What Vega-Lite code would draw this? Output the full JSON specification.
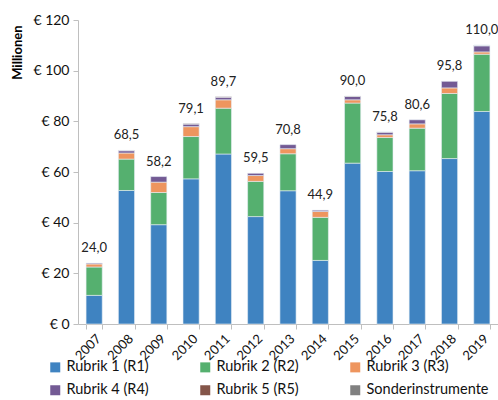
{
  "$schema": "https://vega.github.io/schema/vega-lite/v6.json",
  "width": 420,
  "height": 304,
  "autosize": "none",
  "padding": {"left": 78, "top": 20, "right": 0, "bottom": 76},
  "config": {
    "view": {"stroke": null},
    "font": "Lato",
    "locale": {"number": {"decimal": ",", "thousands": ".", "grouping": [3], "currency": ["€ ", ""]}}
  },
  "data": {
    "values": [
      {"year": "2007", "rubrik": "Rubrik 1 (R1)", "ord": 1, "value": 11.3},
      {"year": "2007", "rubrik": "Rubrik 2 (R2)", "ord": 2, "value": 11.2},
      {"year": "2007", "rubrik": "Rubrik 3 (R3)", "ord": 3, "value": 1.2},
      {"year": "2007", "rubrik": "Rubrik 4 (R4)", "ord": 4, "value": 0.3},
      {"year": "2008", "rubrik": "Rubrik 1 (R1)", "ord": 1, "value": 52.7},
      {"year": "2008", "rubrik": "Rubrik 2 (R2)", "ord": 2, "value": 12.4},
      {"year": "2008", "rubrik": "Rubrik 3 (R3)", "ord": 3, "value": 2.4},
      {"year": "2008", "rubrik": "Rubrik 4 (R4)", "ord": 4, "value": 0.9},
      {"year": "2008", "rubrik": "Rubrik 5 (R5)", "ord": 5, "value": 0.1},
      {"year": "2009", "rubrik": "Rubrik 1 (R1)", "ord": 1, "value": 39.2},
      {"year": "2009", "rubrik": "Rubrik 2 (R2)", "ord": 2, "value": 12.7},
      {"year": "2009", "rubrik": "Rubrik 3 (R3)", "ord": 3, "value": 4.1},
      {"year": "2009", "rubrik": "Rubrik 4 (R4)", "ord": 4, "value": 2.2},
      {"year": "2010", "rubrik": "Rubrik 1 (R1)", "ord": 1, "value": 57.3},
      {"year": "2010", "rubrik": "Rubrik 2 (R2)", "ord": 2, "value": 16.7},
      {"year": "2010", "rubrik": "Rubrik 3 (R3)", "ord": 3, "value": 3.9},
      {"year": "2010", "rubrik": "Rubrik 4 (R4)", "ord": 4, "value": 1.0},
      {"year": "2010", "rubrik": "Rubrik 5 (R5)", "ord": 5, "value": 0.2},
      {"year": "2011", "rubrik": "Rubrik 1 (R1)", "ord": 1, "value": 67.1},
      {"year": "2011", "rubrik": "Rubrik 2 (R2)", "ord": 2, "value": 18.1},
      {"year": "2011", "rubrik": "Rubrik 3 (R3)", "ord": 3, "value": 3.3},
      {"year": "2011", "rubrik": "Rubrik 4 (R4)", "ord": 4, "value": 1.0},
      {"year": "2011", "rubrik": "Rubrik 5 (R5)", "ord": 5, "value": 0.2},
      {"year": "2012", "rubrik": "Rubrik 1 (R1)", "ord": 1, "value": 42.4},
      {"year": "2012", "rubrik": "Rubrik 2 (R2)", "ord": 2, "value": 13.9},
      {"year": "2012", "rubrik": "Rubrik 3 (R3)", "ord": 3, "value": 2.3},
      {"year": "2012", "rubrik": "Rubrik 4 (R4)", "ord": 4, "value": 0.9},
      {"year": "2013", "rubrik": "Rubrik 1 (R1)", "ord": 1, "value": 52.6},
      {"year": "2013", "rubrik": "Rubrik 2 (R2)", "ord": 2, "value": 14.6},
      {"year": "2013", "rubrik": "Rubrik 3 (R3)", "ord": 3, "value": 2.0},
      {"year": "2013", "rubrik": "Rubrik 4 (R4)", "ord": 4, "value": 1.6},
      {"year": "2014", "rubrik": "Rubrik 1 (R1)", "ord": 1, "value": 25.1},
      {"year": "2014", "rubrik": "Rubrik 2 (R2)", "ord": 2, "value": 17.0},
      {"year": "2014", "rubrik": "Rubrik 3 (R3)", "ord": 3, "value": 2.3},
      {"year": "2014", "rubrik": "Rubrik 4 (R4)", "ord": 4, "value": 0.5},
      {"year": "2015", "rubrik": "Rubrik 1 (R1)", "ord": 1, "value": 63.5},
      {"year": "2015", "rubrik": "Rubrik 2 (R2)", "ord": 2, "value": 23.7},
      {"year": "2015", "rubrik": "Rubrik 3 (R3)", "ord": 3, "value": 1.3},
      {"year": "2015", "rubrik": "Rubrik 4 (R4)", "ord": 4, "value": 1.3},
      {"year": "2015", "rubrik": "Rubrik 5 (R5)", "ord": 5, "value": 0.2},
      {"year": "2016", "rubrik": "Rubrik 1 (R1)", "ord": 1, "value": 60.2},
      {"year": "2016", "rubrik": "Rubrik 2 (R2)", "ord": 2, "value": 13.4},
      {"year": "2016", "rubrik": "Rubrik 3 (R3)", "ord": 3, "value": 1.1},
      {"year": "2016", "rubrik": "Rubrik 4 (R4)", "ord": 4, "value": 1.0},
      {"year": "2016", "rubrik": "Rubrik 5 (R5)", "ord": 5, "value": 0.1},
      {"year": "2017", "rubrik": "Rubrik 1 (R1)", "ord": 1, "value": 60.5},
      {"year": "2017", "rubrik": "Rubrik 2 (R2)", "ord": 2, "value": 16.8},
      {"year": "2017", "rubrik": "Rubrik 3 (R3)", "ord": 3, "value": 1.7},
      {"year": "2017", "rubrik": "Rubrik 4 (R4)", "ord": 4, "value": 1.6},
      {"year": "2018", "rubrik": "Rubrik 1 (R1)", "ord": 1, "value": 65.3},
      {"year": "2018", "rubrik": "Rubrik 2 (R2)", "ord": 2, "value": 25.7},
      {"year": "2018", "rubrik": "Rubrik 3 (R3)", "ord": 3, "value": 2.2},
      {"year": "2018", "rubrik": "Rubrik 4 (R4)", "ord": 4, "value": 2.6},
      {"year": "2019", "rubrik": "Rubrik 1 (R1)", "ord": 1, "value": 83.9},
      {"year": "2019", "rubrik": "Rubrik 2 (R2)", "ord": 2, "value": 22.6},
      {"year": "2019", "rubrik": "Rubrik 3 (R3)", "ord": 3, "value": 0.9},
      {"year": "2019", "rubrik": "Rubrik 4 (R4)", "ord": 4, "value": 2.4},
      {"year": "2019", "rubrik": "Rubrik 5 (R5)", "ord": 5, "value": 0.2},
      {"year": "2019", "rubrik": "Sonderinstrumente", "ord": 6, "value": 0.0}
    ]
  },
  "layer": [
    {
      "mark": {"type": "bar", "stroke": "#e8eef5", "strokeWidth": 0.6},
      "encoding": {
        "x": {
          "field": "year", "type": "ordinal",
          "scale": {"paddingInner": 0.5, "paddingOuter": 0.25},
          "axis": {
            "title": null, "labelAngle": -45, "labelFontSize": 13, "labelColor": "#111",
            "domainColor": "#bfbfbf", "tickColor": "#bfbfbf", "tickSize": 5, "tickBand": "extent",
            "labelPadding": 3
          }
        },
        "y": {
          "field": "value", "type": "quantitative", "stack": "zero",
          "scale": {"domain": [0, 120]},
          "axis": {
            "values": [0, 20, 40, 60, 80, 100, 120], "labelExpr": "'€ ' + datum.value",
            "labelFontSize": 14, "labelColor": "#111", "grid": false,
            "domainColor": "#bfbfbf", "tickColor": "#bfbfbf", "tickSize": 5, "labelPadding": 4,
            "title": "Millionen", "titleFontSize": 13, "titleFontWeight": "bold", "titleColor": "#000",
            "titleX": -61, "titleY": 5, "titleAngle": -90, "titleAlign": "right", "titleBaseline": "middle"
          }
        },
        "color": {
          "field": "rubrik", "type": "nominal",
          "scale": {
            "domain": ["Rubrik 1 (R1)", "Rubrik 2 (R2)", "Rubrik 3 (R3)", "Rubrik 4 (R4)", "Rubrik 5 (R5)", "Sonderinstrumente"],
            "range": ["#3f83c1", "#55b06f", "#ee955e", "#735a94", "#845549", "#808080"]
          },
          "legend": {
            "title": null, "orient": "none", "legendX": -30, "legendY": 340, "direction": "horizontal",
            "columns": 3, "symbolType": "square", "symbolSize": 100, "symbolStrokeWidth": 0,
            "labelFontSize": 14.5, "labelColor": "#111", "labelOffset": 4, "columnPadding": 49, "rowPadding": 8,
            "padding": 0, "labelLimit": 200
          }
        },
        "order": {"field": "ord", "type": "quantitative"}
      }
    },
    {
      "transform": [{"aggregate": [{"op": "sum", "field": "value", "as": "total"}], "groupby": ["year"]}],
      "mark": {"type": "text", "baseline": "alphabetic", "dy": -11, "fontSize": 13, "color": "#222"},
      "encoding": {
        "x": {"field": "year", "type": "ordinal"},
        "y": {"field": "total", "type": "quantitative"},
        "text": {"field": "total", "type": "quantitative", "format": ".1f"}
      }
    }
  ]
}
